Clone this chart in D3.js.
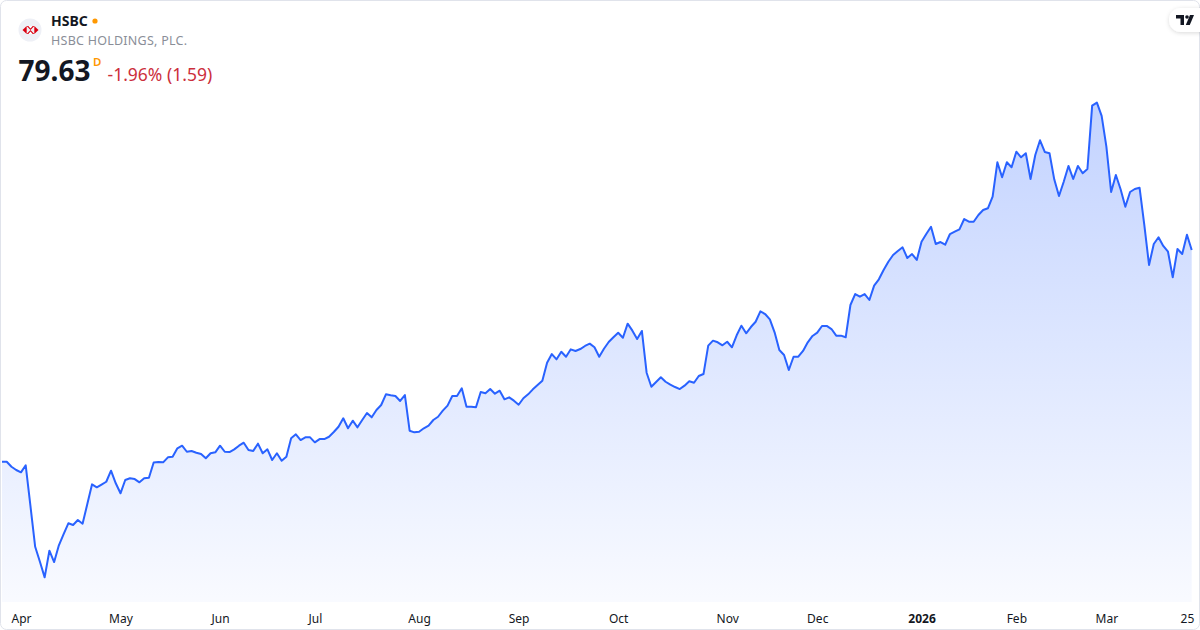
<!DOCTYPE html>
<html>
<head>
<meta charset="utf-8">
<script src="https://cdn.jsdelivr.net/npm/d3@7"></script>
<style>
    html, body { margin: 0; padding: 0; background: #fff; }
    svg { display: block; font-family: "Noto Sans", "Open Sans", sans-serif; }
</style>
</head>
<body>
<div id="chart"></div>
<script>
// Daily closes, HSBC ADR, 26 Mar 2025 -> 26 Mar 2026
const closePrices = [
    57.61, 57.61, 57.09, 56.75, 56.51, 57.24, 53.01, 48.77, 47.21, 45.59,
    48.36, 47.18, 48.92, 50.09, 51.21, 51.03, 51.55, 51.17, 53.21, 55.26,
    54.95, 55.24, 55.53, 56.68, 55.37, 54.33, 55.71, 55.89, 55.81, 55.47,
    55.89, 55.95, 57.53, 57.58, 57.55, 58.07, 58.13, 59.01, 59.28, 58.65,
    58.73, 58.55, 58.41, 57.97, 58.49, 58.59, 59.28, 58.65, 58.62, 58.90,
    59.28, 59.59, 58.83, 58.73, 59.49, 58.49, 58.90, 57.79, 58.49, 57.72,
    58.13, 60.05, 60.46, 59.87, 60.15, 60.15, 59.63, 59.97, 59.97, 60.21,
    60.70, 61.25, 62.13, 61.09, 61.88, 61.19, 61.95, 62.68, 62.23, 62.99,
    63.51, 64.62, 64.52, 64.45, 63.93, 64.55, 60.84, 60.67, 60.73, 61.09,
    61.36, 61.95, 62.29, 62.92, 63.44, 64.45, 64.45, 65.25, 63.33, 63.33,
    63.27, 64.86, 64.73, 65.17, 64.69, 65.00, 64.10, 64.31, 63.96, 63.54,
    64.21, 64.62, 65.14, 65.59, 66.04, 67.91, 68.81, 68.26, 69.05, 68.53,
    69.30, 69.13, 69.33, 69.65, 69.89, 69.51, 68.53, 69.36, 70.06, 70.55,
    71.03, 70.51, 71.97, 71.24, 70.37, 71.21, 66.87, 65.41, 65.90, 66.39,
    65.93, 65.62, 65.38, 65.17, 65.52, 65.98, 65.83, 66.53, 66.73, 69.68,
    70.20, 70.03, 69.72, 70.09, 69.51, 70.76, 71.76, 70.97, 71.62, 72.17,
    73.25, 72.97, 72.42, 71.07, 69.23, 68.71, 67.15, 68.53, 68.53, 69.13,
    70.03, 70.69, 71.03, 71.73, 71.73, 71.41, 70.72, 70.72, 70.55, 73.91,
    75.05, 74.77, 75.05, 74.43, 75.92, 76.58, 77.55, 78.41, 79.11, 79.53,
    79.91, 78.80, 79.21, 78.59, 80.49, 81.29, 82.05, 80.25, 80.46, 80.18,
    81.29, 81.53, 81.78, 82.85, 82.57, 82.57, 83.27, 83.79, 83.97, 85.17,
    88.75, 87.19, 88.75, 88.23, 89.85, 89.27, 89.69, 87.01, 89.51, 91.04,
    89.82, 89.69, 86.98, 85.25, 86.73, 88.37, 87.01, 88.37, 87.61, 88.05,
    94.64, 94.95, 93.57, 90.37, 85.66, 87.43, 85.94, 84.13, 85.66, 85.97,
    86.11, 82.23, 78.07, 80.25, 80.95, 80.05, 79.45, 76.79, 79.73, 79.21,
    81.22, 79.63
];

// Time axis: bar index of each label and its text
const tickIndices = [4, 25, 46, 66, 88, 109, 130, 153, 172, 194, 214, 233, 250];
const tickLabels = ['Apr', 'May', 'Jun', 'Jul', 'Aug', 'Sep', 'Oct', 'Nov', 'Dec', '2026', 'Feb', 'Mar', '25'];
const boldTicks = ['2026'];

// Header
const symbolTicker = 'HSBC';
const symbolName = 'HSBC HOLDINGS, PLC.';
const lastPrice = '79.63';
const changeText = '-1.96% (1.59)';

class SymbolChart {
    constructor(selector) {
        this.width = 1200;
        this.height = 630;
        this.plotBottom = 602;
        this.svg = d3.select(selector)
            .append('svg')
            .attr('width', this.width)
            .attr('height', this.height);

        this.x = d3.scaleLinear()
            .domain([0, closePrices.length - 1])
            .range([2, 1191.7]);
        this.y = d3.scaleLinear()
            .domain([40, 100])
            .range([631.1, 54.1]);

        this.drawFrame();
        this.drawSeries();
        this.drawAxis();
        this.drawHeader();
        this.drawBadge();
    }

    drawFrame() {
        this.svg.append('rect')
            .attr('x', 0.5).attr('y', 0.5)
            .attr('width', this.width - 1).attr('height', this.height - 1)
            .attr('rx', 6)
            .attr('fill', '#fff')
            .attr('stroke', '#e0e3eb');
    }

    drawSeries() {
        const defs = this.svg.append('defs');
        const grad = defs.append('linearGradient')
            .attr('id', 'areaFill')
            .attr('gradientUnits', 'userSpaceOnUse')
            .attr('x1', 0).attr('x2', 0)
            .attr('y1', this.y(d3.max(closePrices)))
            .attr('y2', this.plotBottom);
        grad.append('stop').attr('offset', 0).attr('stop-color', '#2962ff').attr('stop-opacity', 0.28);
        grad.append('stop').attr('offset', 1).attr('stop-color', '#2962ff').attr('stop-opacity', 0.03);

        const area = d3.area()
            .x((d, i) => this.x(i))
            .y0(this.plotBottom)
            .y1(d => this.y(d));

        const line = d3.line()
            .x((d, i) => this.x(i))
            .y(d => this.y(d));

        this.svg.append('path')
            .datum(closePrices)
            .attr('d', area)
            .attr('fill', 'url(#areaFill)');

        this.svg.append('path')
            .datum(closePrices)
            .attr('d', line)
            .attr('fill', 'none')
            .attr('stroke', '#2962ff')
            .attr('stroke-width', 2)
            .attr('stroke-linejoin', 'round');
    }

    drawAxis() {
        const axis = d3.axisBottom(this.x)
            .tickValues(tickIndices)
            .tickFormat((d, i) => tickLabels[i])
            .tickSize(0)
            .tickPadding(0);

        const g = this.svg.append('g')
            .attr('transform', `translate(0,${this.plotBottom})`)
            .call(axis);

        g.select('.domain').remove();
        g.selectAll('text')
            .attr('dy', null)
            .attr('y', 21)
            .style('font-family', '"Noto Sans", sans-serif')
            .style('font-size', '12px')
            .style('fill', '#131722')
            .style('font-weight', d => boldTicks.includes(tickLabels[tickIndices.indexOf(d)]) ? 700 : 400);
    }

    drawHeader() {
        const head = this.svg.append('g');

        // logo disc with the red hexagon mark
        head.append('circle').attr('cx', 30).attr('cy', 30).attr('r', 11.5).attr('fill', '#eef0f6');
        const logo = head.append('g').attr('transform', 'translate(30.5,30)');
        logo.append('path').attr('d', 'M-8,0 L-3.8,-4 L-3.8,4 Z').attr('fill', '#db0011');
        logo.append('path').attr('d', 'M8,0 L3.8,-4 L3.8,4 Z').attr('fill', '#db0011');
        logo.append('path').attr('d', 'M-3.8,-4 L3.8,-4 L0,0 Z M-3.8,4 L3.8,4 L0,0 Z').attr('fill', '#db0011');
        logo.append('path').attr('d', 'M-2.2,-4 L2.2,-4 L0,-1.4 Z M-2.2,4 L2.2,4 L0,1.4 Z').attr('fill', '#fff');

        head.append('text')
            .attr('x', 51).attr('y', 26)
            .style('font-size', '14px').style('font-weight', 700)
            .attr('fill', '#131722')
            .text(symbolTicker);

        head.append('circle').attr('cx', 95).attr('cy', 21).attr('r', 2.6).attr('fill', '#ff9800');

        head.append('text')
            .attr('x', 51).attr('y', 45)
            .style('font-size', '12.5px')
            .style('letter-spacing', '0.25px')
            .attr('fill', '#8a8e98')
            .text(symbolName);

        head.append('text')
            .attr('x', 18.5).attr('y', 81)
            .style('font-size', '28px').style('font-weight', 700)
            .attr('fill', '#131722')
            .text(lastPrice);

        head.append('text')
            .attr('x', 93).attr('y', 65.5)
            .style('font-size', '11.5px').style('font-weight', 600)
            .attr('fill', '#ff9800')
            .text('D');

        head.append('text')
            .attr('x', 107.5).attr('y', 81)
            .style('font-size', '17.5px')
            .attr('fill', '#cc2f3c')
            .text(changeText);
    }

    drawBadge() {
        // TradingView badge, top right
        const defs = this.svg.select('defs');
        const f = defs.append('filter').attr('id', 'badgeShadow')
            .attr('x', -0.5).attr('y', -0.5).attr('width', 2).attr('height', 2);
        f.append('feDropShadow').attr('dx', 0).attr('dy', 1).attr('stdDeviation', 2)
            .attr('flood-color', '#000').attr('flood-opacity', 0.15);

        const b = this.svg.append('g');
        b.append('rect')
            .attr('x', 1169).attr('y', 8).attr('width', 44).attr('height', 24).attr('rx', 12)
            .attr('fill', '#fff')
            .attr('filter', 'url(#badgeShadow)');
        b.append('path')
            .attr('d', 'M1176,15 h8 v10 h-3.5 v-6.5 h-4.5 Z')
            .attr('fill', '#131722');
        b.append('circle').attr('cx', 1187).attr('cy', 17).attr('r', 1.8).attr('fill', '#131722');
        b.append('path')
            .attr('d', 'M1190,15 h4 l-4.2,10 h-4 Z')
            .attr('fill', '#131722');
    }
}

const hsbcChart = new SymbolChart('#chart');
</script>
</body>
</html>
